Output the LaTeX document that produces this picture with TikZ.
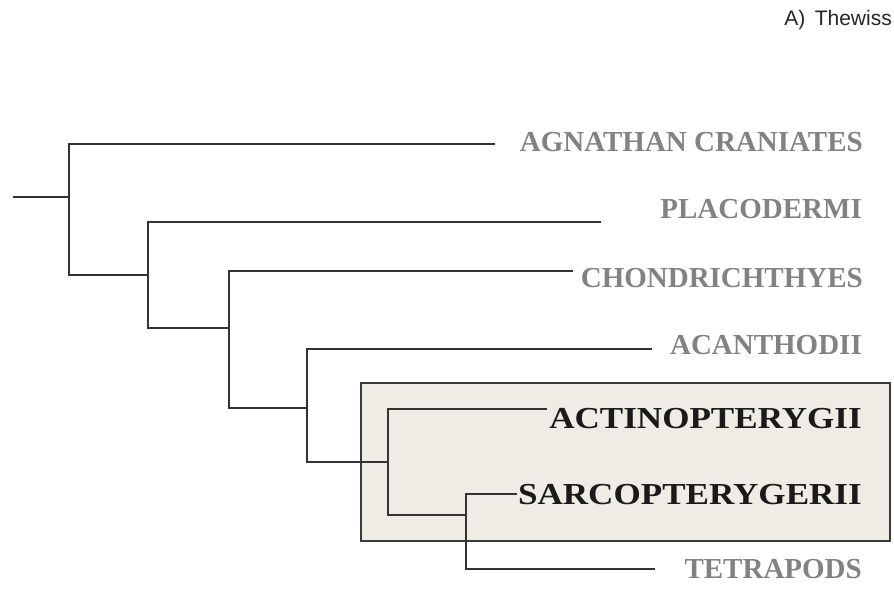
\documentclass[tikz,border=0pt]{standalone}
\usepackage{fontspec}
\setmainfont{Liberation Serif}
\newfontfamily\titlefont{Liberation Sans}
\definecolor{linecol}{HTML}{333333}
\definecolor{taxgray}{HTML}{828282}
\definecolor{taxdark}{HTML}{1A1A1A}
\definecolor{boxfill}{HTML}{EEECE4}
\definecolor{boxline}{HTML}{3A3A3A}
\begin{document}
\begin{tikzpicture}[x=1pt,y=-1pt,
  branch/.style={draw=linecol,line width=2.7pt},
  taxon/.style={anchor=base east,inner sep=0pt,font=\fontsize{29}{29}\selectfont\bfseries,text=taxgray},
  taxonbox/.style={anchor=base east,inner sep=0pt,font=\fontsize{30.5}{30.5}\selectfont\bfseries,text=taxdark},
  cladebox/.style={draw=boxline,fill=boxfill,line width=1.8pt}]
\useasboundingbox (0,0) rectangle (894,591);
% title (cut off at the edge in the reference; shrunk here to fit)
\node[anchor=base east,inner sep=0pt,font=\titlefont\fontsize{21}{21}\selectfont,text=black!85] (title) at (892,26) {A)\hspace{0.45em}Thewiss};
% highlight box
\node[cladebox,minimum width=529pt,minimum height=158pt,anchor=north west,inner sep=0pt] (box) at (360,382) {};
% coordinates of internal nodes
\coordinate (root) at (13,197);
\coordinate (n1) at (69,197);
\coordinate (n2) at (148,275);
\coordinate (n3) at (229,328);
\coordinate (n4) at (307,408);
\coordinate (n5) at (388,462);
\coordinate (n6) at (466,515);
% tip ends
\coordinate (agnE) at (495,144);
\coordinate (plaE) at (601,222);
\coordinate (choE) at (573,271);
\coordinate (acaE) at (652,349);
\coordinate (actE) at (547,409);
\coordinate (sarE) at (517,494);
\coordinate (tetE) at (655,569);
% labels
\node[taxon] (agn) at (863,152) {AGNATHAN CRANIATES};
\node[taxon] (pla) at (862,218) {PLACODERMI};
\node[taxon] (cho) at (863,287) {CHONDRICHTHYES};
\node[taxon] (aca) at (862,354) {ACANTHODII};
\node[taxonbox] (act) at (862,428) {\scalebox{1.15}[1]{ACTINOPTERYGII}};
\node[taxonbox] (sar) at (862,504) {\scalebox{1.15}[1]{SARCOPTERYGERII}};
\node[taxon] (tet) at (862,578) {TETRAPODS};
% branches
\draw[branch] (root) -- (n1);
\draw[branch] (agnE) -| (n1);
\draw[branch] (n2) -| (n1);
\draw[branch] (plaE) -| (n2);
\draw[branch] (n3) -| (n2);
\draw[branch] (choE) -| (n3);
\draw[branch] (n4) -| (n3);
\draw[branch] (acaE) -| (n4);
\draw[branch] (n5) -| (n4);
\draw[branch] (actE) -| (n5);
\draw[branch] (n6) -| (n5);
\draw[branch] (sarE) -| (n6);
\draw[branch] (tetE) -| (n6);
\end{tikzpicture}
\end{document}
